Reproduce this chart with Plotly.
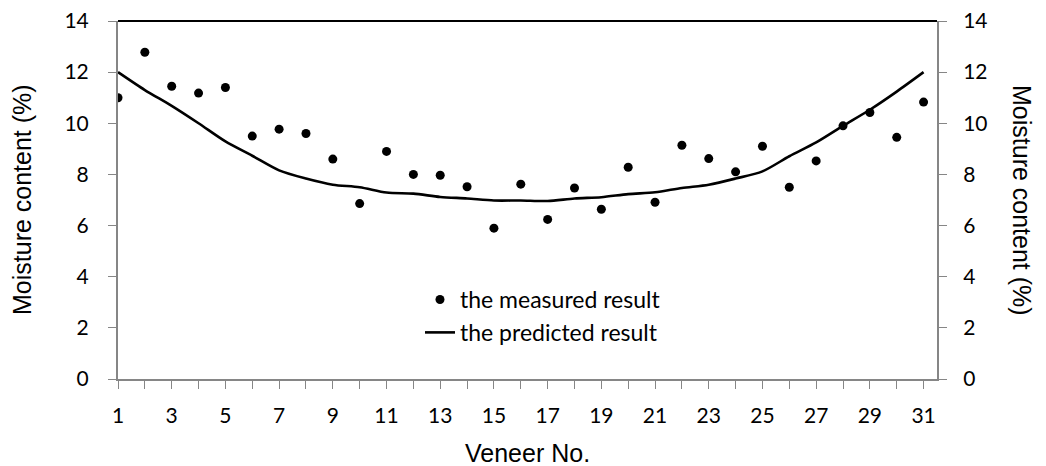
import plotly.graph_objects as go

veneer_no = list(range(1, 32))
measured = [11.0, 12.78, 11.45, 11.18, 11.40, 9.50, 9.77, 9.60, 8.60, 6.86,
            8.90, 8.00, 7.97, 7.52, 5.90, 7.62, 6.24, 7.47, 6.64, 8.28,
            6.91, 9.14, 8.62, 8.10, 9.10, 7.50, 8.53, 9.90, 10.42, 9.45, 10.83]
predicted = [12.0, 11.3, 10.68, 10.0, 9.29, 8.73, 8.16, 7.84, 7.60, 7.50,
             7.29, 7.25, 7.12, 7.06, 6.98, 6.98, 6.96, 7.06, 7.11, 7.23,
             7.30, 7.47, 7.60, 7.84, 8.12, 8.71, 9.25, 9.90, 10.53, 11.24, 12.0]
x_tick_vals = list(range(1, 32, 2))
y_tick_vals = [0, 2, 4, 6, 8, 10, 12, 14]

W, H = 1046, 466
L, R, T, B = 118, 109, 21, 87
pw = W - L - R
ph = H - T - B

axis_grey = "#868686"
tick_font = dict(family="Lato, Liberation Sans, sans-serif", size=21, color="black")
title_font = dict(family="Liberation Sans, Arial, sans-serif", size=25, color="black")

fig = go.Figure()
fig.add_trace(go.Scatter(
    x=veneer_no, y=measured, mode="markers", name="the measured result",
    marker=dict(color="black", size=9, symbol="circle"),
))
fig.add_trace(go.Scatter(
    x=veneer_no, y=predicted, mode="lines", name="the predicted result",
    line=dict(color="black", width=2.6, shape="spline", smoothing=0.8),
))
# invisible trace for secondary axis
fig.add_trace(go.Scatter(x=veneer_no, y=predicted, yaxis="y2", mode="lines",
                         line=dict(width=0), showlegend=False, hoverinfo="skip",
                         opacity=0))

fig.update_layout(
    width=W, height=H,
    margin=dict(l=L, r=R, t=T, b=B, autoexpand=False),
    plot_bgcolor="white", paper_bgcolor="white",
    showlegend=True,
    legend=dict(
        x=(420 - L) / pw, y=0.282, xanchor="left", yanchor="top",
        font=dict(family="Lato, Open Sans, sans-serif", size=23, color="black"),
        bgcolor="rgba(0,0,0,0)", tracegroupgap=0, itemwidth=30,
    ),
    xaxis=dict(
        range=[1, 31.5], tickvals=x_tick_vals, ticks="outside", ticklen=8,
        tickcolor=axis_grey, showline=True, linecolor=axis_grey, linewidth=2,
        showgrid=False, zeroline=False, tickfont=tick_font,
        ticklabelstandoff=9,
        minor=dict(dtick=1, tick0=1, ticks="outside", ticklen=8, tickcolor=axis_grey),
    ),
    yaxis=dict(
        range=[0, 14], tickvals=y_tick_vals, ticks="outside", ticklen=8,
        tickcolor=axis_grey, showline=True, linecolor=axis_grey, linewidth=2,
        showgrid=False, zeroline=False, tickfont=tick_font, ticklabelstandoff=15,
    ),
    yaxis2=dict(
        range=[0, 14], tickvals=y_tick_vals, ticks="outside", ticklen=8,
        tickcolor=axis_grey, showline=True, linecolor=axis_grey, linewidth=2,
        showgrid=False, zeroline=False, tickfont=tick_font, ticklabelstandoff=12,
        overlaying="y", side="right",
    ),
    shapes=[dict(type="line", xref="paper", yref="paper", x0=0, x1=1, y0=1, y1=1,
                 line=dict(color="black", width=2))],
    annotations=[
        dict(text="Veneer No.", xref="paper", yref="paper", x=(527 - L) / pw,
             y=(H - 453 - B) / ph,
             showarrow=False, font=title_font, xanchor="center", yanchor="middle"),
        dict(text="Moisture content (%)", xref="paper", yref="paper",
             x=(22 - L) / pw, y=0.5, showarrow=False, font=title_font, textangle=-90,
             xanchor="center", yanchor="middle"),
        dict(text="Moisture content (%)", xref="paper", yref="paper",
             x=(1022 - L) / pw, y=0.5, showarrow=False, font=title_font, textangle=90,
             xanchor="center", yanchor="middle"),
    ],
)

fig.write_html("out.html")
